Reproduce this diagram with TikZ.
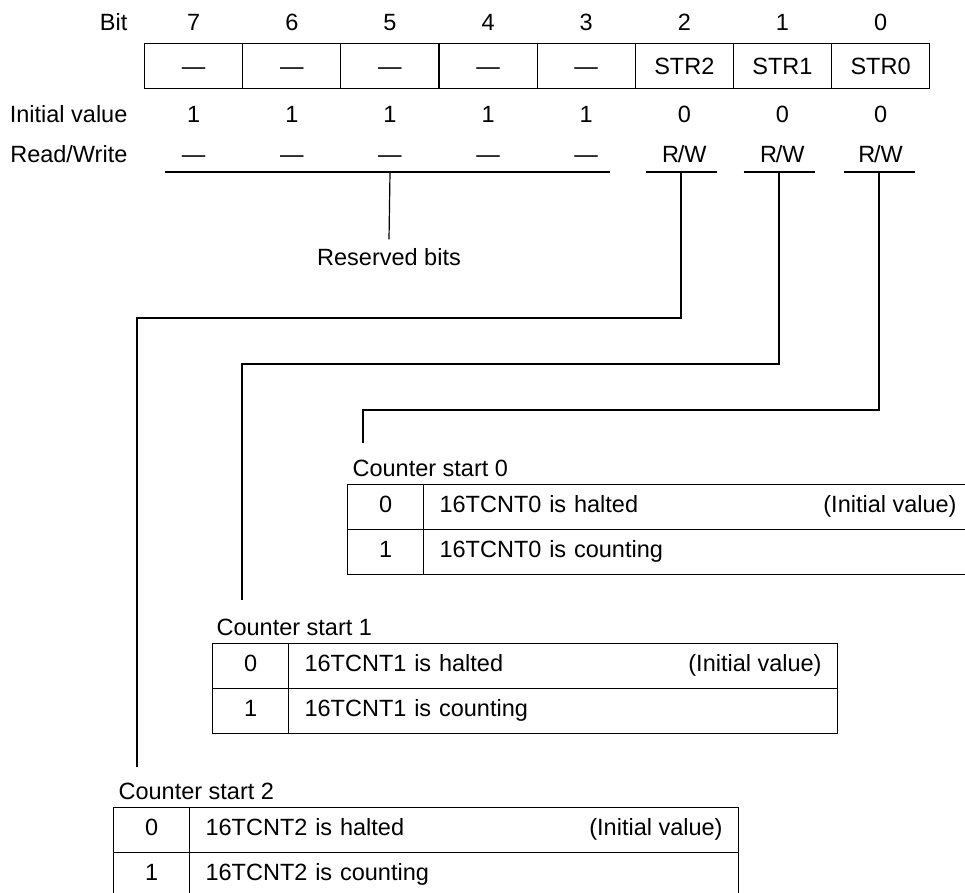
\documentclass[tikz,border=0pt]{standalone}
\usepackage{fontspec}
\setmainfont{Liberation Sans}
\newcommand\rwtxt{R\kern-0.05em/W}
\begin{document}
\begin{tikzpicture}[x=1pt,y=-1pt,line width=1.2pt,
  txt/.style={font=\fontsize{23.5}{28}\selectfont, inner sep=0pt, text height=17pt, text depth=0pt},
  regcell/.style={txt, draw, minimum width=98.125pt, minimum height=45pt, anchor=north west},
  vcell/.style={draw, font=\fontsize{23.5}{28}\selectfont, inner sep=0pt, text height=14pt, text depth=3pt,
     minimum width=76pt, minimum height=45pt, anchor=north west},
  dcell/.style={draw, font=\fontsize{23.5}{28}\selectfont, inner ysep=0pt, inner xsep=16pt, text height=14pt, text depth=3pt,
     text width=517pt, align=left, minimum height=45pt, anchor=north west},
  note/.style={font=\fontsize{23.5}{28}\selectfont, inner sep=0pt, text height=14pt, text depth=3pt, anchor=east},
  lbl/.style={txt, anchor=west}
]
\path[use as bounding box] (0,0) rectangle (965,892);
\clip (0,0) rectangle (965,892);

% row labels
\node[txt, anchor=east] (bitlbl) at (128,22) {Bit};
\node[txt, anchor=east] (ivlbl) at (128,114) {Initial value};
\node[txt, anchor=east] (rwlbl) at (128,154) {Read/Write};

% register
\foreach \i/\t/\v/\r in {7/—/1/—,6/—/1/—,5/—/1/—,4/—/1/—,3/—/1/—,2/STR2/0/\rwtxt,1/STR1/0/\rwtxt,0/STR0/0/\rwtxt}{
  \node[regcell] (r\i) at ({144+(7-\i)*98.125},43) {\t};
  \node[txt] (b\i) at (r\i.center |- 0,22) {\i};
  \node[txt] (iv\i) at (r\i.center |- 0,114) {\v};
  \node[txt] (rw\i) at (r\i.center |- 0,154) {\r};
}

% underlines
\coordinate (resA) at (165,172);
\coordinate (resB) at (610,172);
\coordinate (resM) at (390,172);
\draw (resA) -- (resB);
\node[txt] (resv) at (389,257) {Reserved bits};
\draw (resM) -- ([yshift=8.5pt]resv.north);

\coordinate (k2) at (681,172);
\coordinate (k1) at (779,172);
\coordinate (k0) at (879,172);
\draw ([xshift=-35.5pt]k2) -- ([xshift=35.5pt]k2);
\draw ([xshift=-35.5pt]k1) -- ([xshift=35.5pt]k1);
\draw ([xshift=-35.5pt]k0) -- ([xshift=35.5pt]k0);

% connector ends
\coordinate (e2) at (137,767);
\coordinate (e1) at (242,600);
\coordinate (e0) at (363,443);
\draw (k2) -- (k2 |- 0,318) -| (e2);
\draw (k1) -- (k1 |- 0,364) -| (e1);
\draw (k0) -- (k0 |- 0,410) -| (e0);

% table 0
\node[lbl] (lab0) at (352,468) {Counter start 0};
\node[vcell] (t0v0) at (347,484) {0};
\node[dcell] (t0d0) at (423,484) {16TCNT0 is halted};
\node[vcell] (t0v1) at (347,529) {1};
\node[dcell] (t0d1) at (423,529) {16TCNT0 is counting};
\node[note] (t0n) at ([xshift=-16pt]t0d0.east) {(Initial value)};

% table 1
\node[lbl] (lab1) at (216,627) {Counter start 1};
\node[vcell] (t1v0) at (212,643) {0};
\node[dcell] (t1d0) at (288,643) {16TCNT1 is halted};
\node[vcell] (t1v1) at (212,688) {1};
\node[dcell] (t1d1) at (288,688) {16TCNT1 is counting};
\node[note] (t1n) at ([xshift=-16pt]t1d0.east) {(Initial value)};

% table 2
\node[lbl] (lab2) at (118,791) {Counter start 2};
\node[vcell] (t2v0) at (113,807) {0};
\node[dcell] (t2d0) at (189,807) {16TCNT2 is halted};
\node[vcell] (t2v1) at (113,852) {1};
\node[dcell] (t2d1) at (189,852) {16TCNT2 is counting};
\node[note] (t2n) at ([xshift=-16pt]t2d0.east) {(Initial value)};
\end{tikzpicture}
\end{document}
